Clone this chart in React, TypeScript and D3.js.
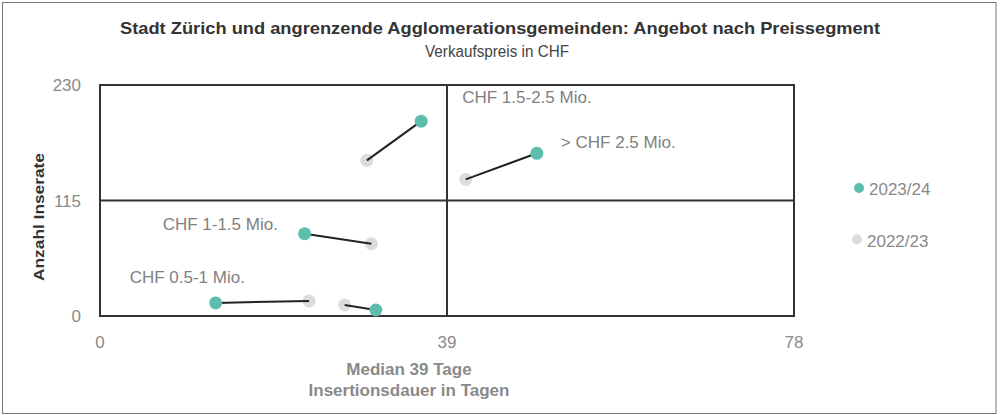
import React from "react";
import * as d3 from "d3";

// ---- data ----
const segments = ["< CHF 0.5 Mio.", "CHF 0.5-1 Mio.", "CHF 1-1.5 Mio.", "CHF 1.5-2.5 Mio.", "> CHF 2.5 Mio."];
const dauer2324 = [31.0, 13.0, 23.0, 36.1, 49.1];
const inserate2324 = [6, 13, 82, 194, 162];
const dauer2223 = [27.5, 23.5, 30.5, 30.0, 41.1];
const inserate2223 = [11, 15, 72, 155, 136];
const showLabel = [false, true, true, true, true];
const seriesNames = ["2023/24", "2022/23"];
const xTicks = [0, 39, 78];
const yTicks = [0, 115, 230];
const medianDauer = 39;
const medianInserate = 115;

// ---- style ----
const W = 1002, H = 415;
const GREEN = "#5ebead";
const GREY = "#dcdcdf";
const TICK = "#8a8a8a";
const FONT = "'Liberation Sans', Arial, sans-serif";
// label offsets relative to the 2023/24 point (px)
const labelOffsets: [number, number][] = [
  [0, 0],
  [-86, -20],
  [-142, -4],
  [41, -18],
  [24, -5],
];

export default function App() {
  const x = d3.scaleLinear().domain([0, 78]).range([100, 794]);
  const y = d3.scaleLinear().domain([0, 230]).range([316, 85]);
  const line = d3.line<[number, number]>().x((d) => x(d[0])).y((d) => y(d[1]));

  return (
    <svg width={W} height={H} style={{ position: "absolute", left: 0, top: 0 }} fontFamily={FONT}>
      <rect x={0} y={0} width={W} height={H} fill="#fff" />
      <rect x={2.5} y={2.5} width={993.5} height={411} fill="none" stroke="#777" strokeWidth={1} />

      <text x={500} y={34} textAnchor="middle" fontSize={16.5} fontWeight="bold" fill="#333"
        textLength={760} lengthAdjust="spacingAndGlyphs">
        Stadt Zürich und angrenzende Agglomerationsgemeinden: Angebot nach Preissegment
      </text>
      <text x={497} y={57} textAnchor="middle" fontSize={16} fill="#444"
        textLength={144} lengthAdjust="spacingAndGlyphs">
        Verkaufspreis in CHF
      </text>

      {/* plot frame and median lines */}
      <rect x={x(0)} y={y(230)} width={x(78) - x(0)} height={y(0) - y(230)} fill="none" stroke="#333" strokeWidth={2} />
      <line x1={x(medianDauer)} x2={x(medianDauer)} y1={y(0)} y2={y(230)} stroke="#333" strokeWidth={2} />
      <line x1={x(0)} x2={x(78)} y1={y(medianInserate)} y2={y(medianInserate)} stroke="#333" strokeWidth={2} />

      {/* ticks */}
      {yTicks.map((t) => (
        <text key={"y" + t} x={81} y={y(t)} dy="0.36em" textAnchor="end" fontSize={17} fill={TICK}>{t}</text>
      ))}
      {xTicks.map((t) => (
        <text key={"x" + t} x={x(t)} y={348} textAnchor="middle" fontSize={17} fill={TICK}>{t}</text>
      ))}

      {/* axis titles */}
      <text transform={`translate(44,217) rotate(-90)`} textAnchor="middle" fontSize={15.5} fontWeight="bold" fill="#333"
        textLength={128} lengthAdjust="spacingAndGlyphs">
        Anzahl Inserate
      </text>
      <text x={409} y={375} textAnchor="middle" fontSize={17} fontWeight="bold" fill={TICK}>Median 39 Tage</text>
      <text x={409} y={396} textAnchor="middle" fontSize={17} fontWeight="bold" fill={TICK}>Insertionsdauer in Tagen</text>

      {/* marks */}
      {segments.map((s, i) => (
        <circle key={"g" + i} cx={x(dauer2223[i])} cy={y(inserate2223[i])} r={6.5} fill={GREY} />
      ))}
      {segments.map((s, i) => (
        <path key={"l" + i}
          d={line([[dauer2324[i], inserate2324[i]], [dauer2223[i], inserate2223[i]]]) || ""}
          stroke="#222" strokeWidth={2} fill="none" />
      ))}
      {segments.map((s, i) => (
        <circle key={"n" + i} cx={x(dauer2324[i])} cy={y(inserate2324[i])} r={6.5} fill={GREEN} />
      ))}
      {segments.map((s, i) =>
        showLabel[i] ? (
          <text key={"t" + i} x={x(dauer2324[i]) + labelOffsets[i][0]} y={y(inserate2324[i]) + labelOffsets[i][1]}
            fontSize={17} fill="#7f7f7f">{s}</text>
        ) : null
      )}

      {/* legend */}
      <circle cx={859} cy={188} r={5} fill={GREEN} />
      <text x={869} y={195} fontSize={17} fill={TICK}>{seriesNames[0]}</text>
      <circle cx={857} cy={239.5} r={5} fill={GREY} />
      <text x={867} y={247} fontSize={17} fill={TICK}>{seriesNames[1]}</text>
    </svg>
  );
}
